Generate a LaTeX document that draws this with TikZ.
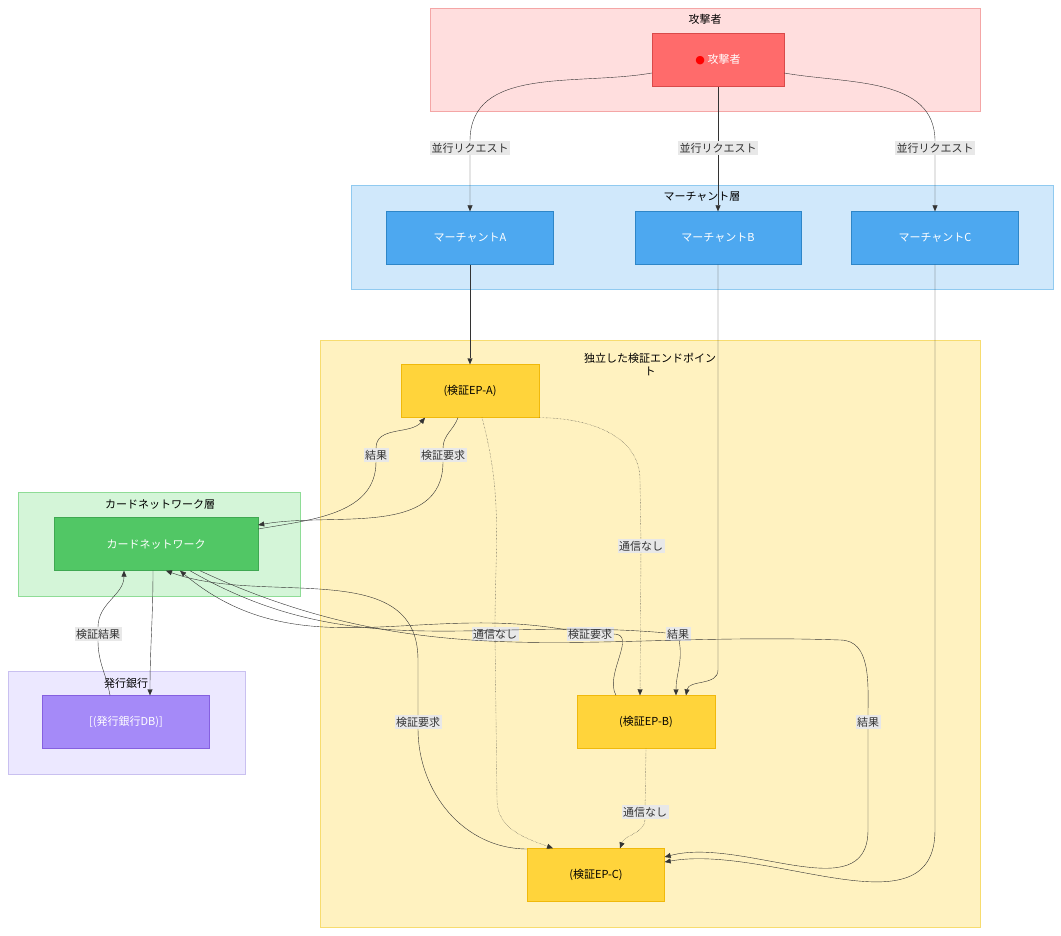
\documentclass[tikz,border=0pt]{standalone}
\usepackage{fontspec}
\setmainfont{Noto Sans CJK JP}
\newfontfamily\sym{DejaVu Sans}
\usetikzlibrary{arrows.meta}
\definecolor{atkbg}{HTML}{FFDEDE}\definecolor{atkbd}{HTML}{F4A6A6}
\definecolor{atkfill}{HTML}{FF6B6B}\definecolor{atkline}{HTML}{D94A4A}
\definecolor{merbg}{HTML}{D0E8FB}\definecolor{merbd}{HTML}{90CAF0}
\definecolor{merfill}{HTML}{4DA8F0}\definecolor{merline}{HTML}{2E86C8}
\definecolor{epbg}{HTML}{FFF2C0}\definecolor{epbd}{HTML}{F7DC6F}
\definecolor{epfill}{HTML}{FFD43B}\definecolor{epline}{HTML}{F0B90B}
\definecolor{netbg}{HTML}{D4F5D8}\definecolor{netbd}{HTML}{8EDC96}
\definecolor{netfill}{HTML}{51C765}\definecolor{netline}{HTML}{3FA852}
\definecolor{isbg}{HTML}{ECE8FF}\definecolor{isbd}{HTML}{C9C0F0}
\definecolor{isfill}{HTML}{A58AF8}\definecolor{isline}{HTML}{8560E0}
\definecolor{lblbg}{HTML}{E8E8E8}
\tikzset{
  box/.style={draw, minimum height=53pt, inner sep=2pt},
  lbl/.style={fill=lblbg, inner sep=1.5pt, text=black!80},
  arr/.style={draw=black!80, -{Triangle[length=6pt,width=5pt]}},
  noc/.style={arr, densely dotted},
}
\begin{document}
\begin{tikzpicture}[x=1pt, y=-1pt, font=\fontsize{11}{13}\selectfont]
  \useasboundingbox (0,0) rectangle (1061,936);

  % Clusters.
  \draw[fill=atkbg, draw=atkbd] (430,8) rectangle (980,111);
  \node at (705,19) {攻撃者};
  \draw[fill=merbg, draw=merbd] (351,185) rectangle (1053,289);
  \node at (702,197) {マーチャント層};
  \draw[fill=epbg, draw=epbd] (320,340) rectangle (980,927);
  \node[align=center] at (650,364) {独立した検証エンドポイン\\ト};
  \draw[fill=netbg, draw=netbd] (18,492) rectangle (300,596);
  \node at (160,504) {カードネットワーク層};
  \draw[fill=isbg, draw=isbd] (8,671) rectangle (245,774);
  \node at (126,683) {発行銀行};

  % Nodes.
  \node[box, fill=atkfill, draw=atkline, text=white, minimum width=132pt] (att) at (718,60)
    {{\sym\textcolor{red}{●}} 攻撃者};
  \node[box, fill=merfill, draw=merline, text=white, minimum width=167pt] (ma) at (470,238) {マーチャントA};
  \node[box, fill=merfill, draw=merline, text=white, minimum width=166pt] (mb) at (718,238) {マーチャントB};
  \node[box, fill=merfill, draw=merline, text=white, minimum width=167pt] (mc) at (935,238) {マーチャントC};
  \node[box, fill=epfill, draw=epline, minimum width=138pt] (epa) at (470,391) {(検証EP-A)};
  \node[box, fill=epfill, draw=epline, minimum width=138pt] (epb) at (646,722) {(検証EP-B)};
  \node[box, fill=epfill, draw=epline, minimum width=137pt] (epc) at (596,875) {(検証EP-C)};
  \node[box, fill=netfill, draw=netline, text=white, minimum width=204pt] (card) at (156,544) {カードネットワーク};
  \node[box, fill=isfill, draw=isline, text=white, minimum width=167pt] (db) at (126,722) {[(発行銀行DB)]};

  % Labels.
  \node[lbl] (l1) at (470,148) {並行リクエスト};
  \node[lbl] (l2) at (718,148) {並行リクエスト};
  \node[lbl] (l3) at (935,148) {並行リクエスト};
  \node[lbl] (l5) at (443,455) {検証要求};
  \node[lbl] (l6) at (376,455) {結果};
  \node[lbl] (l7) at (641,546) {通信なし};
  \node[lbl] (l8) at (495,634) {通信なし};
  \node[lbl] (l9) at (645,812) {通信なし};
  \node[lbl] (l10) at (98,634) {検証結果};
  \node[lbl] (l11) at (590,634) {検証要求};
  \node[lbl] (l12) at (678,634) {結果};
  \node[lbl] (l13) at (418,722) {検証要求};
  \node[lbl] (l14) at (868,722) {結果};

  % Attacker to merchants.
  \draw[arr] ([yshift=-13pt]att.west) to[out=190,in=90] (l1) -- (ma);
  \draw[arr] (att) -- (l2) -- (mb);
  \draw[arr] ([yshift=-13pt]att.east) to[out=-10,in=90] (l3) -- (mc);

  % Merchants to endpoints.
  \draw[arr] (ma) -- (epa);
  \draw[arr] (mb.south) -- (718,670) to[out=-90,in=80] ([xshift=40pt]epb.north);
  \draw[arr] (mc.south) -- (935,830) to[out=-90,in=10] ([yshift=13pt]epc.east);

  % Endpoint A and network.
  \draw[arr] ([xshift=-12pt]epa.south) to[out=-110,in=90] (l5) to[out=-90,in=10] ([yshift=19pt]card.east);
  \draw[arr] ([yshift=15pt]card.east) to[out=10,in=-90] (l6) to[out=90,in=-130] ([xshift=-45pt]epa.south);

  % No communication.
  \draw[noc] (epa.south east) to[out=0,in=90] (640,480) -- (l7) -- ([xshift=-6pt]epb.north);
  \draw[noc] ([xshift=12pt]epa.south) to[out=-75,in=90] (l8) -- (497,800) to[out=-90,in=160] ([xshift=-43pt]epc.north);
  \draw[noc] (epb.south) -- (l9) to[out=-90,in=70] ([xshift=24pt]epc.north);

  % Network and issuer.
  \draw[arr] ([xshift=-3pt]card.south) to[out=-90,in=90] ([xshift=24pt]db.north);
  \draw[arr] ([xshift=-16pt]db.north) to[out=100,in=-90] (l10) to[out=90,in=-90] ([xshift=-32pt]card.south);

  % Endpoint B and network.
  \draw[arr] ([xshift=-30pt]epb.north) to[out=120,in=0] (l11) to[out=170,in=-40] ([xshift=24pt]card.south);
  \draw[arr] ([xshift=34pt]card.south) to[out=-30,in=175] (l12) to[out=-80,in=90] ([xshift=30pt]epb.north);

  % Endpoint C and network.
  \draw[arr] ([yshift=26pt]epc.west) to[out=180,in=-90] (l13) -- (418,660) to[out=90,in=-20] ([xshift=10pt]card.south);
  \draw[arr] ([xshift=44pt]card.south) to[out=-25,in=178] (840,640) to[out=0,in=90] (l14) -- (868,830) to[out=-90,in=15] ([yshift=18pt]epc.east);
\end{tikzpicture}
\end{document}
